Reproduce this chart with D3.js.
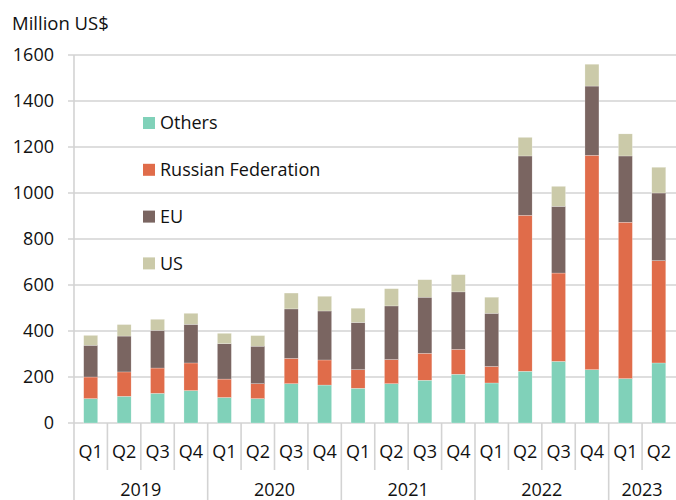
<!DOCTYPE html>
<html>
<head>
<meta charset="utf-8">
<script src="https://cdn.jsdelivr.net/npm/d3@7"></script>
<style>
  body { margin: 0; background: #fff; }
  svg text { font-family: "Open Sans", "Noto Sans", sans-serif; fill: #111; }
</style>
</head>
<body>
<div id="chart"></div>
<script>
// quarters and years along the bottom
const quarters = ["Q1", "Q2", "Q3", "Q4", "Q1", "Q2", "Q3", "Q4", "Q1", "Q2", "Q3", "Q4", "Q1", "Q2", "Q3", "Q4", "Q1", "Q2"];
const years = ["2019", "2019", "2019", "2019", "2020", "2020", "2020", "2020", "2021", "2021", "2021", "2021", "2022", "2022", "2022", "2022", "2023", "2023"];

// million US$, stacked from bottom
const others = [106, 116, 129, 141, 111, 106, 171, 165, 151, 171, 186, 212, 174, 225, 268, 232, 193, 261];
const russia = [94, 106, 110, 120, 80, 65, 110, 109, 81, 105, 117, 108, 72, 678, 384, 932, 680, 445];
const eu = [138, 156, 164, 168, 154, 163, 215, 213, 205, 233, 244, 250, 231, 258, 290, 301, 288, 294];
const us = [43, 50, 48, 48, 45, 46, 69, 64, 62, 75, 76, 75, 70, 81, 87, 95, 96, 112];

const seriesNames = ["Others", "Russian Federation", "EU", "US"];
const colors = ["#80d1b9", "#e06c4a", "#7a6561", "#cbcaa9"];
const yTicks = [0, 200, 400, 600, 800, 1000, 1200, 1400, 1600];

const width = 676, height = 500;
const mLeft = 74, mRight = 676, mTop = 55, mBottom = 423;

const svg = d3.select("#chart").append("svg")
    .attr("width", width)
    .attr("height", height);

const rows = quarters.map((q, i) => ({
    key: i,
    Others: others[i],
    "Russian Federation": russia[i],
    EU: eu[i],
    US: us[i]
}));

const x = d3.scaleBand().domain(rows.map(d => d.key)).range([mLeft, mRight - 0.5]).padding(0);
const y = d3.scaleLinear().domain([0, 1600]).range([mBottom, mTop]);

// grid lines
svg.append("g").selectAll("line")
    .data(yTicks)
    .enter().append("line")
    .attr("x1", mLeft - 6).attr("x2", mRight)
    .attr("y1", d => y(d)).attr("y2", d => y(d))
    .attr("stroke", "#d3d3d3").attr("stroke-width", 1.6);

// y labels
svg.append("g").selectAll("text")
    .data(yTicks)
    .enter().append("text")
    .attr("x", 54).attr("y", d => y(d))
    .attr("dy", "0.36em")
    .attr("text-anchor", "end")
    .style("font-size", "18px")
    .text(d => d);

svg.append("text")
    .attr("x", 12).attr("y", 30)
    .style("font-size", "18.5px")
    .text("Million US$");

// bars
const stacked = d3.stack().keys(seriesNames)(rows);
const bw = 14;

svg.append("g").selectAll("g")
    .data(stacked)
    .enter().append("g")
    .attr("fill", (d, i) => colors[i])
    .selectAll("rect")
    .data(d => d)
    .enter().append("rect")
    .attr("x", d => x(d.data.key) + x.bandwidth() / 2 - bw / 2)
    .attr("width", bw)
    .attr("y", d => y(d[1]))
    .attr("height", d => y(d[0]) - y(d[1]))
    .attr("stroke", "#fff")
    .attr("stroke-width", 0.4)
    .attr("stroke-opacity", 0.6);

// left axis line
svg.append("line")
    .attr("x1", mLeft).attr("x2", mLeft)
    .attr("y1", mTop).attr("y2", height)
    .attr("stroke", "#d3d3d3").attr("stroke-width", 1.6);

// quarter separators
const axisG = svg.append("g");
quarters.forEach((q, i) => {
    const xs = x(i) + x.bandwidth();
    const isYearEnd = i === quarters.length - 1 || years[i] !== years[i + 1];
    if (i < quarters.length - 1) {
        axisG.append("line")
            .attr("x1", xs).attr("x2", xs)
            .attr("y1", mBottom).attr("y2", isYearEnd ? height : 470)
            .attr("stroke", "#d3d3d3").attr("stroke-width", 1.6);
    }
    axisG.append("text")
        .attr("x", x(i) + x.bandwidth() / 2)
        .attr("y", 452)
        .attr("dy", "0.36em")
        .attr("text-anchor", "middle")
        .style("font-size", "18px")
        .text(q);
});

// year labels
const yearList = Array.from(new Set(years));
yearList.forEach(yr => {
    const idx = years.map((v, i) => v === yr ? i : -1).filter(i => i >= 0);
    const x0 = x(idx[0]);
    const x1 = x(idx[idx.length - 1]) + x.bandwidth();
    axisG.append("text")
        .attr("x", (x0 + x1) / 2)
        .attr("y", 490)
        .attr("dy", "0.36em")
        .attr("text-anchor", "middle")
        .style("font-size", "18px")
        .text(yr);
});

// legend
const legend = svg.append("g");
seriesNames.forEach((name, i) => {
    const cy = 123 + i * 46.8;
    legend.append("rect")
        .attr("x", 143).attr("y", cy - 6)
        .attr("width", 12).attr("height", 12)
        .attr("fill", colors[i]);
    legend.append("text")
        .attr("x", 160).attr("y", cy)
        .attr("dy", "0.36em")
        .style("font-size", "18px")
        .text(name);
});
</script>
</body>
</html>
